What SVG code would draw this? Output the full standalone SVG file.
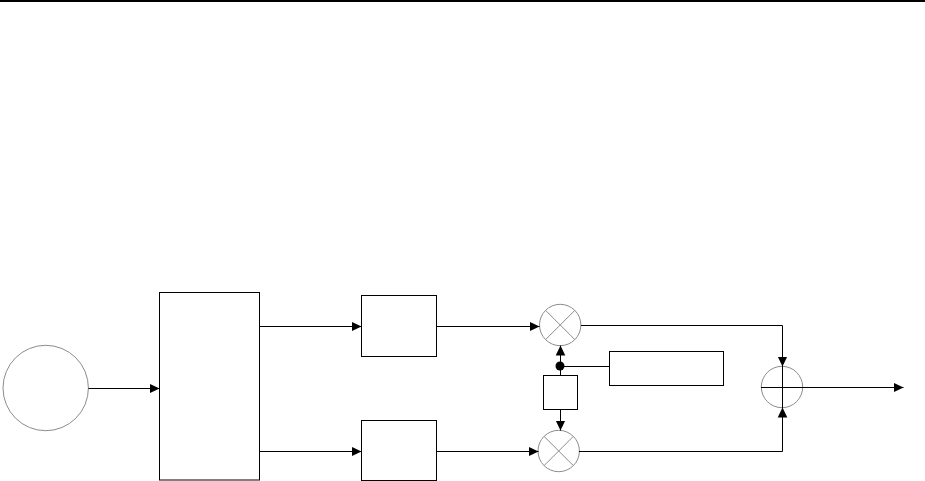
<svg xmlns="http://www.w3.org/2000/svg" width="925" height="481" viewBox="0 0 925 481">
<style>
.b{fill:#fff;stroke:#000;stroke-width:1}
.c{fill:#fff;stroke:#8c8c8c;stroke-width:1}
.x{fill:none;stroke:#8c8c8c;stroke-width:1}
.l{fill:none;stroke:#000;stroke-width:1}
</style>
<defs>
<marker id="a" markerUnits="userSpaceOnUse" markerWidth="11" markerHeight="11" refX="10" refY="5.5" orient="auto"><path d="M0 0.7L10 5.5L0 10.300Z" fill="#000"/></marker>
</defs>
<rect id="top-rule" x="0" y="0" width="925" height="2" fill="#000"/>
<g id="source"><circle class="c" cx="45.7" cy="388" r="42.7"/></g>
<g id="splitter"><rect class="b" x="159.5" y="292.5" width="100" height="187.5"/></g>
<g id="filter-upper"><rect class="b" x="361.5" y="295.5" width="75" height="61"/></g>
<g id="filter-lower"><rect class="b" x="361.5" y="420.5" width="75" height="60"/></g>
<g id="mixer-upper"><circle class="c" cx="560.2" cy="325" r="20.7"/><path class="x" d="M545.6 310.4L574.8 339.6M574.8 310.4L545.6 339.6"/></g>
<g id="mixer-lower"><circle class="c" cx="558.7" cy="451" r="20.7"/><path class="x" d="M544.1 436.4L573.3 465.6M573.3 436.4L544.1 465.6"/></g>
<g id="phase"><rect class="b" x="543.5" y="375.5" width="34" height="34"/></g>
<g id="oscillator"><rect class="b" x="609.5" y="351.5" width="114" height="34"/></g>
<g id="adder"><circle class="c" cx="782" cy="387" r="20.7"/></g>
<g id="connectors">
<path class="l" d="M88.5 388.5H159.5" marker-end="url(#a)"/>
<path class="l" d="M259 326.500H361.500" marker-end="url(#a)"/>
<path class="l" d="M259 451.500H361.500" marker-end="url(#a)"/>
<path class="l" d="M436 326.500H539.500" marker-end="url(#a)"/>
<path class="l" d="M436 451.500H538.500" marker-end="url(#a)"/>
<path class="l" d="M560.500 375.500V345.500" marker-end="url(#a)"/>
<path class="l" d="M560.500 409.500V430.500" marker-end="url(#a)"/>
<path class="l" d="M560.500 366.500H609.500"/>
<circle cx="560" cy="366" r="4.500" fill="#000"/>
<path class="l" d="M581 325.500H782.500V366.500" marker-end="url(#a)"/>
<path class="l" d="M579 451.500H782.500V407.500" marker-end="url(#a)"/>
<path class="l" d="M761 387.500H903.500" marker-end="url(#a)"/>
<path class="l" d="M782.500 366V408"/>
</g>
</svg>
